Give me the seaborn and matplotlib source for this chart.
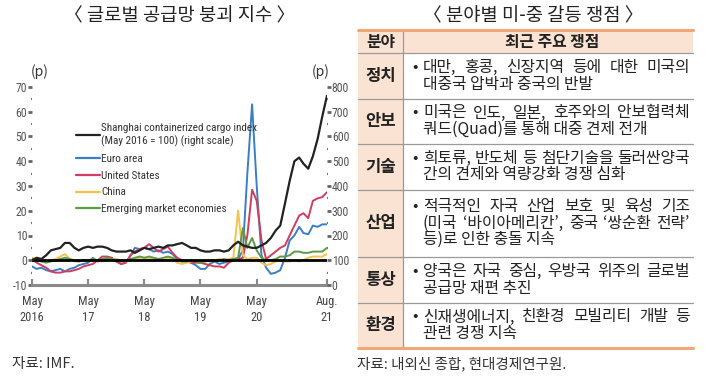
import numpy as np
import pandas as pd
import matplotlib
matplotlib.use("Agg")
import matplotlib.pyplot as plt
import seaborn as sns
from matplotlib import font_manager
from matplotlib.lines import Line2D
from matplotlib.patches import Rectangle
from matplotlib.ticker import MultipleLocator

# ---------------------------
# Data (monthly, May 2016 - Aug 2021)
# ---------------------------
months = pd.date_range("2016-05-01", periods=64, freq="MS")

# Shanghai containerized cargo index (May 2016 = 100), right scale
scfi = [100, 110, 105, 120, 140, 145, 150, 170, 170, 150,
        140, 150, 155, 150, 155, 155, 150, 140, 135, 135,
        135, 140, 130, 140, 150, 145, 150, 155, 150, 160,
        160, 165, 170, 160, 150, 150, 140, 135, 135, 140,
        140, 135, 140, 160, 175, 160, 155, 150, 150, 160,
        170, 190, 220, 240, 330, 420, 500, 515, 490, 470,
        520, 590, 680, 765]

euro = [-2.5, -3.5, -3, -4, -4.5, -4, -3.5, -4.5, -3.5, -3,
        -2, -1.5, -1, 1, -0.5, 0, 0.5, 1, -0.5, -1.5,
        -1, 2, 5, 4.5, 5, 4.5, 3.5, 4, 3, 3.5,
        2.5, 0.5, -0.5, 0, -1, -2, -3.5, -3.5, -1.5, -0.5,
        -1.5, -1, -0.5, 0, 0.5, 4, 35, 63, 30, 2,
        -3, -5.5, -5, -4, 1, 8, 10, 13.5, 11, 10.5,
        14, 13.5, 14.5, 14.5]

us = [0.5, -1, -2, -3, -4.5, -5, -5, -4.5, -4.5, -4,
      -3.5, -2.5, -2, -1.5, 0, 1.5, 1.5, 1, -0.5, -1.5,
      -1, 2, 3.5, 4.5, 5, 6.5, 5, 3.5, 4.5, 5.5,
      3, 1, 0, -0.5, -1, -1, -1, -1.5, -2, -2.5,
      -2.5, -3, -1, 0, 0.5, 1, 10, 28.5, 24, 8,
      0.5, 2, 3.5, 5, 6, 10, 14, 18, 19, 17,
      24, 25, 25.5, 27.5]

china = [1, 0.5, -0.5, -0.5, 0, 0.5, 1.5, 2.5, 0.5, -0.5,
         -0.5, 0, 0, 0.5, 0, -0.5, 0, 0.5, 0.5, 0,
         -0.5, 0, 0.5, 1, 1, 0.5, 1, 0.5, 0, 1,
         0.5, -1, -1.5, -1, -0.5, 0, -0.5, 0, -0.5, 0,
         0.5, 0, 0.5, 1, 20, 2, 0.5, 1, 1, -1,
         -2, -1.5, -0.5, 0, -0.5, -0.5, 0, -0.5, 0, 1,
         1.5, 1.5, 1.5, 2.5]

emerging = [0.5, 0, -0.5, -1, -0.5, 0, 0.5, 1, 0.5, 0,
            -0.5, 0, 0, 0.5, 0, 0.5, 1, 0.5, 0, -0.5,
            0, 0.5, 1, 1.5, 1, 1.5, 1, 0.5, 1, 1.5,
            1, 0, -0.5, -0.5, 0, -0.5, -1, -0.5, 0, -0.5,
            0, 0.5, 0, 0.5, 1, 13, 5, 9, 4, 1,
            0, 0, 0.5, 1.5, 1.5, 2, 3.5, 3.5, 3, 3,
            3.5, 3.5, 3.5, 5]

series_names = ["Euro area", "United States", "China", "Emerging market economies"]
series_colors = ["#3a7fc4", "#d23c5e", "#f3c34f", "#5f9a4a"]
scfi_label = "Shanghai containerized cargo index\n(May 2016 = 100) (right scale)"

tick_dates = ["2016-05-01", "2017-05-01", "2018-05-01", "2019-05-01", "2020-05-01", "2021-08-01"]
tick_labels = ["May\n2016", "May\n17", "May\n18", "May\n19", "May\n20", "Aug.\n21"]

# table contents
table_title = "〈 분야별 미-중 갈등 쟁점 〉"
table_header = ["분야", "최근 주요 쟁점"]
table_fields = ["정치", "안보", "기술", "산업", "통상", "환경"]
table_lines = [
    ["대만, 홍콩, 신장지역 등에 대한 미국의", "대중국 압박과 중국의 반발"],
    ["미국은 인도, 일본, 호주와의 안보협력체", "쿼드(Quad)를 통해 대중 견제 전개"],
    ["희토류, 반도체 등 첨단기술을 둘러싼양국", "간의 견제와 역량강화 경쟁 심화"],
    ["적극적인 자국 산업 보호 및 육성 기조", "(미국 ‘바이아메리칸’, 중국 ‘쌍순환 전략’", "등)로 인한 충돌 지속"],
    ["양국은 자국 중심, 우방국 위주의 글로벌", "공급망 재편 추진"],
    ["신재생에너지, 친환경 모빌리티 개발 등", "관련 경쟁 지속"],
]
chart_title = "〈 글로벌 공급망 붕괴 지수 〉"
left_source = "자료: IMF."
right_source = "자료: 내외신 종합, 현대경제연구원."

# ---------------------------
# Fonts / theme
# ---------------------------
sns.set_theme(style="white")
names = {f.name for f in font_manager.fontManager.ttflist}
narrow = next((n for n in ["Liberation Sans Narrow", "Roboto Condensed", "Open Sans Condensed"]
               if n in names), "Liberation Sans")
plt.rcParams["font.family"] = [narrow, "Noto Sans CJK KR", "DejaVu Sans"]
plt.rcParams["axes.unicode_minus"] = False
KR = ["Noto Sans CJK KR", "DejaVu Sans"]

W, H = 706, 383
fig = plt.figure(figsize=(W / 100, H / 100), dpi=100)
fig.patch.set_facecolor("white")

# background axes in pixel coordinates for titles and table
bg = fig.add_axes([0, 0, 1, 1])
bg.set_xlim(0, W)
bg.set_ylim(H, 0)
bg.axis("off")

# ---------------------------
# Line chart
# ---------------------------
ax = fig.add_axes([32 / W, (H - 285) / H, 295 / W, 198 / H])
ax.set_facecolor("none")
df = pd.DataFrame({"month": months, "Euro area": euro, "United States": us,
                   "China": china, "Emerging market economies": emerging})
long_df = df.melt(id_vars="month", var_name="series", value_name="value")
sns.lineplot(data=long_df, x="month", y="value", hue="series", hue_order=series_names,
             palette=dict(zip(series_names, series_colors)), linewidth=1.4,
             legend=False, ax=ax)
ax.axhline(0, color="black", lw=2.0, zorder=5)

ax_r = ax.twinx()
sns.lineplot(x=months, y=scfi, color="#222222", linewidth=1.6, ax=ax_r)

ax.set_xlim(months[0], months[-1])
ax.set_ylim(-10, 70)
ax_r.set_ylim(0, 800)
for a in (ax, ax_r):
    a.set_xlabel("")
    a.set_ylabel("")
    for s in ("top", "left", "right", "bottom"):
        a.spines[s].set_visible(False)

ax.spines["bottom"].set_visible(True)
ax.spines["bottom"].set_color("#8a8a8a")
ax.spines["bottom"].set_linewidth(2.2)

ax.set_xticks(pd.to_datetime(tick_dates))
ax.set_xticklabels(tick_labels, linespacing=1.3)
ax.tick_params(axis="x", direction="in", length=4, width=1.5, color="#8a8a8a",
               labelsize=9, labelcolor="#444444", pad=7, bottom=True)

ax.yaxis.set_major_locator(MultipleLocator(10))
ax.yaxis.set_minor_locator(MultipleLocator(5))
ax.tick_params(axis="y", which="major", left=True, direction="out", length=3, width=2,
               color="#666666", labelsize=8.5, labelcolor="#555555", pad=0.5)
ax.tick_params(axis="y", which="minor", left=True, direction="out", length=1, width=1.6,
               color="#777777")

ax_r.yaxis.set_major_locator(MultipleLocator(100))
ax_r.yaxis.set_minor_locator(MultipleLocator(50))
ax_r.tick_params(axis="y", which="major", right=True, direction="out", length=3, width=2,
                 color="#666666", labelsize=8.5, labelcolor="#555555", pad=0.5)
ax_r.tick_params(axis="y", which="minor", right=True, direction="out", length=1, width=1.6,
                 color="#777777")

handles = [Line2D([], [], color="#222222", lw=1.6)] + \
          [Line2D([], [], color=c, lw=1.6) for c in series_colors]
labels = [scfi_label] + series_names
fig.legend(handles, labels, loc="upper left", bbox_to_anchor=(72 / W, 1 - 119 / H),
           frameon=False, fontsize=8, handlelength=2.1, handletextpad=0.1,
           labelspacing=0.62, borderaxespad=0, labelcolor="#333333")

bg.text(180, 16, chart_title, ha="center", va="center", fontsize=13.5, family=KR, color="#222222")
bg.text(40, 72, "(p)", ha="center", va="center", fontsize=10, family=KR, color="#333333")
bg.text(321, 72, "(p)", ha="center", va="center", fontsize=10, family=KR, color="#333333")
bg.text(12, 364, left_source, ha="left", va="center", fontsize=10.5, family=KR, color="#333333")

# ---------------------------
# Table
# ---------------------------
peach = "#fbe3d4"
orange = "#f0a878"
grid = "#9a9a9a"
tx0, tdiv, tx1 = 358, 403, 693
header_top, header_bot = 30, 53
row_bounds = [53, 98.5, 144, 189.5, 257, 302.5, 348]
line_h = 16.5
fs = 11.4

bg.text(533, 16, table_title, ha="center", va="center", fontsize=13.5, family=KR, color="#222222")
bg.add_patch(Rectangle((tx0, header_top), tx1 - tx0, header_bot - header_top,
                       facecolor=peach, edgecolor="none"))
bg.add_patch(Rectangle((tx0, header_bot), tdiv - tx0, row_bounds[-1] - header_bot,
                       facecolor=peach, edgecolor="none"))
bg.text((tx0 + tdiv) / 2, 42, table_header[0], ha="center", va="center", fontsize=fs,
        family=KR, weight="bold", color="#222222")
bg.text(552, 42, table_header[1], ha="center", va="center", fontsize=fs,
        family=KR, weight="bold", color="#222222")

for yb in row_bounds[:-1]:
    bg.plot([tx0, tx1], [yb, yb], color=grid, lw=0.9)
bg.plot([tdiv, tdiv], [header_top, row_bounds[-1]], color=grid, lw=0.9)
bg.plot([tx0, tx1], [header_top, header_top], color=orange, lw=2.2)
bg.plot([tx0, tx1], [row_bounds[-1], row_bounds[-1]], color=orange, lw=2.2)

renderer = fig.canvas.get_renderer()


def justify(words, x0, x1, y):
    texts = [bg.text(x0, y, w, ha="left", va="center", fontsize=fs, family=KR,
                     color="#222222") for w in words]
    widths = [t.get_window_extent(renderer).width for t in texts]
    gap = (x1 - x0 - sum(widths)) / max(len(words) - 1, 1)
    x = x0
    for t, w in zip(texts, widths):
        t.set_x(x)
        x += w + gap


text_x0, text_x1 = 423, 690
for i, (field, lines) in enumerate(zip(table_fields, table_lines)):
    top, bot = row_bounds[i], row_bounds[i + 1]
    mid = (top + bot) / 2
    bg.text((tx0 + tdiv) / 2, mid, field, ha="center", va="center", fontsize=fs + 0.6,
            family=KR, weight="bold", color="#222222")
    y0 = mid - (len(lines) - 1) * line_h / 2
    bg.text(415, y0, "•", ha="center", va="center", fontsize=fs, family=KR, color="#222222")
    for j, line in enumerate(lines):
        y = y0 + j * line_h
        if j < len(lines) - 1:
            justify(line.split(" "), text_x0, text_x1, y)
        else:
            bg.text(text_x0, y, line, ha="left", va="center", fontsize=fs, family=KR,
                    color="#222222")

bg.text(357, 364, right_source, ha="left", va="center", fontsize=10.5, family=KR, color="#333333")

fig.savefig("out.png", dpi=100, facecolor="white")
